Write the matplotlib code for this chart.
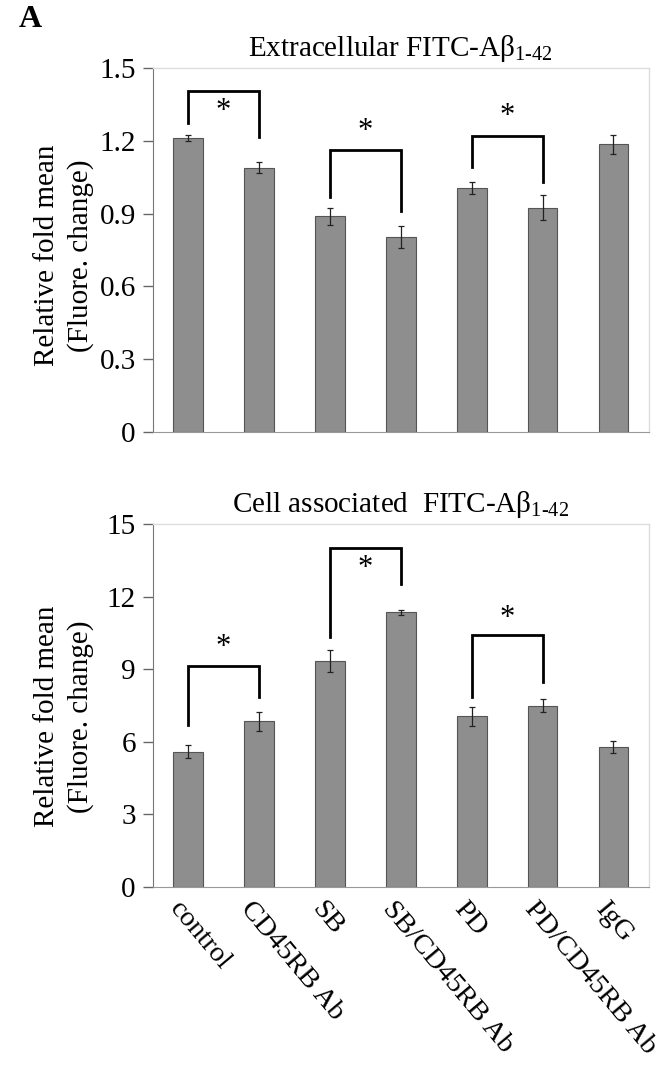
import matplotlib
matplotlib.use("Agg")
import matplotlib.pyplot as plt
import numpy as np

plt.rcParams['font.family'] = ['Liberation Serif', 'DejaVu Serif']
plt.rcParams['mathtext.fontset'] = 'custom'
plt.rcParams['mathtext.rm'] = 'Liberation Serif'
plt.rcParams['mathtext.it'] = 'Liberation Serif:italic'

categories = ["control", "CD45RB Ab", "SB", "SB/CD45RB Ab", "PD", "PD/CD45RB Ab", "IgG"]

extra_vals = [1.21, 1.09, 0.89, 0.805, 1.005, 0.925, 1.185]
extra_err = [0.012, 0.022, 0.035, 0.045, 0.025, 0.05, 0.04]
extra_yticks = [0, 0.3, 0.6, 0.9, 1.2, 1.5]
extra_yticklabels = ["0", "0.3", "0.6", "0.9", "1.2", "1.5"]
# brackets: (i, j, top, left_leg_bottom, right_leg_bottom, star_y)
extra_brackets = [(0, 1, 1.405, 1.275, 1.215, 1.32),
                  (2, 3, 1.162, 0.97, 0.912, 1.24),
                  (4, 5, 1.221, 1.093, 1.03, 1.30)]

cell_vals = [5.6, 6.85, 9.35, 11.35, 7.05, 7.5, 5.8]
cell_err = [0.25, 0.4, 0.45, 0.1, 0.4, 0.25, 0.25]
cell_yticks = [0, 3, 6, 9, 12, 15]
cell_yticklabels = ["0", "3", "6", "9", "12", "15"]
cell_brackets = [(0, 1, 9.15, 6.7, 7.87, 9.9),
                 (2, 3, 14.02, 10.35, 12.52, 13.15),
                 (4, 5, 10.4, 7.87, 8.49, 11.1)]

fig = plt.figure(figsize=(6.69, 10.66), dpi=100)
ax1 = fig.add_axes([0.228, 0.5947, 0.742, 0.3415])
ax2 = fig.add_axes([0.228, 0.1679, 0.742, 0.3405])

x = np.arange(len(categories))


def draw(ax, vals, errs, yticks, yticklabels, brackets, ymax, title, label_y):
    ax.bar(x, vals, width=0.42, color='#8e8e8e', edgecolor='#555555', linewidth=0.8, zorder=2)
    ax.errorbar(x, vals, yerr=errs, fmt='none', ecolor='#222222', elinewidth=0.9,
                capsize=2.5, capthick=0.9, zorder=3)
    ax.set_xlim(-0.5, 6.5)
    ax.set_ylim(0, ymax)
    ax.set_yticks(yticks)
    ax.set_yticklabels(yticklabels, fontsize=21)
    ax.tick_params(axis='y', direction='out', length=7, width=1, color='#666666', pad=5)
    ax.tick_params(axis='x', length=0)
    for s in ['top', 'right']:
        ax.spines[s].set_color('#dddddd')
        ax.spines[s].set_linewidth(1)
    ax.spines['left'].set_color('#777777')
    ax.spines['bottom'].set_color('#999999')
    ax.set_ylabel("Relative fold mean\n(Fluore. change)", fontsize=21, linespacing=1.35)
    ax.yaxis.set_label_coords(-0.118, label_y)
    ax.set_title(title, fontsize=21, pad=9)
    for (i, j, top, lb, rb, sy) in brackets:
        ax.plot([x[i], x[i], x[j], x[j]], [lb, top, top, rb], color='black', lw=2,
                solid_joinstyle='miter', zorder=4)
        ax.text((x[i] + x[j]) / 2, sy, "*", ha='center', va='center', fontsize=22, zorder=4)


draw(ax1, extra_vals, extra_err, extra_yticks, extra_yticklabels, extra_brackets, 1.5,
     r"Extracellular FITC-Aβ$_{1\text{-}42}$", 0.485)
ax1.set_xticks(x)
ax1.set_xticklabels([])

draw(ax2, cell_vals, cell_err, cell_yticks, cell_yticklabels, cell_brackets, 15,
     r"Cell associated  FITC-Aβ$_{1\text{-}42}$", 0.47)
ax2.set_xticks(x - 0.06)
ax2.set_xticklabels(categories, rotation=-50, ha='left', va='top',
                    rotation_mode='anchor', fontsize=20.5)
ax2.tick_params(axis='x', pad=7)

fig.text(0.028, 0.995, "A", fontsize=23, fontweight='bold', va='top', ha='left')

fig.savefig("out.png", dpi=100)
